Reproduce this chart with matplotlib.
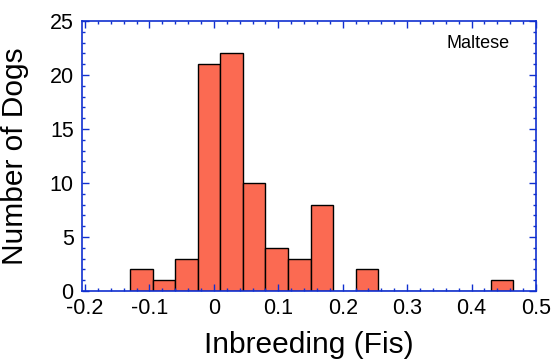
import matplotlib
matplotlib.use("Agg")
from matplotlib import pyplot as plt
from matplotlib.ticker import MultipleLocator

plt.rcParams['font.family'] = ['Liberation Sans', 'DejaVu Sans']

# histogram bins (Fis) and counts
bin_edges = [-0.13 + 0.035 * k for k in range(18)]
counts = [2, 1, 3, 21, 22, 10, 4, 3, 8, 0, 2, 0, 0, 0, 0, 0, 1]
xticks = [-0.2, -0.1, 0, 0.1, 0.2, 0.3, 0.4, 0.5]
xticklabels = ["-0.2", "-0.1", "0", "0.1", "0.2", "0.3", "0.4", "0.5"]
yticks = [0, 5, 10, 15, 20, 25]
breed = "Maltese"

blue = "#1030d0"

fig = plt.figure(figsize=(5.56, 3.64), dpi=100)
ax = fig.add_axes([0.1475, 0.2005, 0.8165, 0.7418])

lefts = bin_edges[:-1]
widths = [bin_edges[i + 1] - bin_edges[i] for i in range(len(counts))]
ax.bar(lefts, counts, width=widths, align="edge", color="#fb6a52",
       edgecolor="black", linewidth=1.0)

ax.set_xlim(-0.2047, 0.5)
ax.set_ylim(0, 25)
ax.set_xticks(xticks)
ax.set_xticklabels(xticklabels)
ax.set_yticks(yticks)
ax.xaxis.set_minor_locator(MultipleLocator(0.02))
ax.yaxis.set_minor_locator(MultipleLocator(1))

for s in ax.spines.values():
    s.set_color(blue)
    s.set_linewidth(1.2)

ax.tick_params(which="both", direction="in", color=blue, top=True, right=True,
               labelsize=15.5, labelcolor="black")
ax.tick_params(axis="x", which="major", length=5, width=1.0, pad=5)
ax.tick_params(axis="y", which="major", length=5, width=1.0, pad=6)
ax.tick_params(which="minor", length=2.5, width=1.0)

ax.set_xlabel("Inbreeding (Fis)", fontsize=21.5, labelpad=9)
ax.set_ylabel("Number of Dogs", fontsize=21.5, labelpad=15)

ax.text(0.943, 0.915, breed, transform=ax.transAxes, ha="right", va="center",
        fontsize=13)

fig.savefig("out.png", dpi=100)
